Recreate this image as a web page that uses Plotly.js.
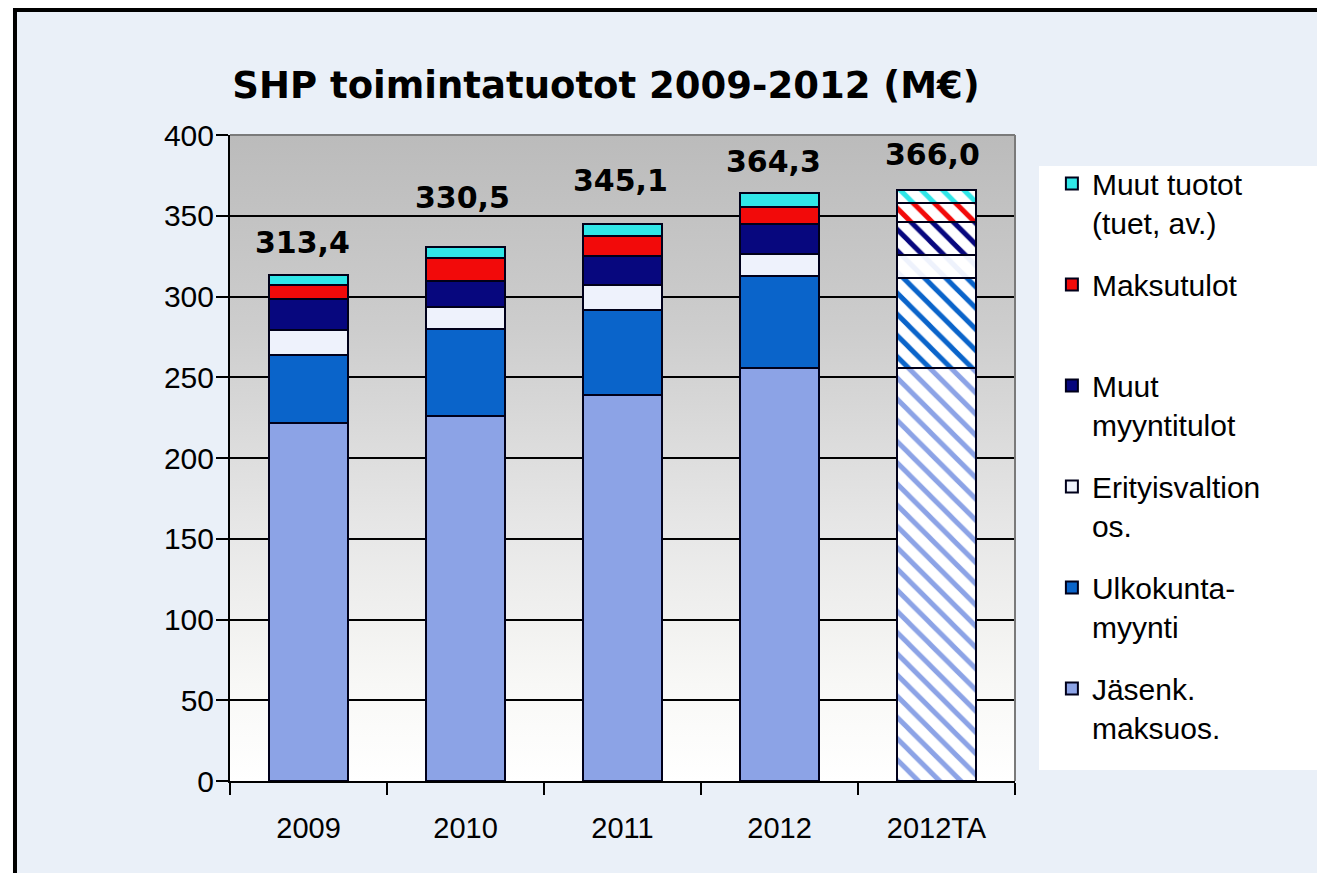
<!DOCTYPE html>
<html>
<head>
<meta charset="utf-8">
<script src="https://cdn.plot.ly/plotly-3.0.1.min.js"></script>
<style>
  html, body { margin: 0; padding: 0; background: #ffffff; }
  #chart { width: 1317px; height: 873px; }
</style>
</head>
<body>
<div id="chart"></div>
<script>
// ---- data (M€) ----
const categories = ['2009', '2010', '2011', '2012', '2012TA'];
const jasenkMaksuos = [221.5, 226.0, 239.0, 255.7, 255.5];
const ulkokuntaMyynti = [42.5, 54.0, 52.6, 57.0, 56.0];
const erityisvaltionos = [15.5, 13.6, 15.4, 13.6, 14.5];
const muutMyyntitulot = [19.0, 16.0, 18.0, 18.7, 20.0];
const maksutulot = [8.9, 14.0, 12.5, 10.3, 12.0];
const muutTuotot = [6.0, 6.9, 7.6, 9.0, 8.0];
const totals = [313.4, 330.5, 345.1, 364.3, 366.0];
const seriesNames = [
  'Jäsenk.<br>maksuos.',
  'Ulkokunta-<br>myynti',
  'Erityisvaltion<br>os.',
  'Muut<br>myyntitulot',
  'Maksutulot<br>&nbsp;',
  'Muut tuotot<br>(tuet, av.)'
];

// ---- styling ----
const seriesColors = ['#8CA3E6', '#0A64CA', '#EEF2FC', '#07077E', '#F20A0A', '#30E6E8'];
const labelXShift = [-6, -3, -2, -6, -4];
const labelYShift = [32, 50, 43, 31, 35];
const patternShapes = categories.map(c => c.endsWith('TA') ? '\\' : '');

const seriesValues = [jasenkMaksuos, ulkokuntaMyynti, erityisvaltionos, muutMyyntitulot, maksutulot, muutTuotot];

const traces = seriesValues.map((vals, i) => ({
  type: 'bar',
  name: seriesNames[i],
  x: categories,
  y: vals,
  legendgroup: 'g' + i,
  legendrank: 1000 - i * 100,
  marker: {
    color: seriesColors[i],
    line: { color: '#00001A', width: 2 },
    pattern: {
      shape: patternShapes,
      fgcolor: seriesColors[i],
      bgcolor: '#FFFFFF',
      size: 15,
      solidity: 0.33,
      fillmode: 'replace'
    }
  },
  hoverinfo: 'x+y+name'
}));

const annotations = categories.map((c, i) => ({
  x: i,
  y: totals[i],
  xref: 'x',
  yref: 'y',
  text: totals[i].toFixed(1).replace('.', ','),
  showarrow: false,
  xanchor: 'center',
  yanchor: 'middle',
  xshift: labelXShift[i],
  yshift: labelYShift[i],
  font: { family: 'DejaVu Sans', size: 30, color: '#000000', weight: 'bold' }
}));

const gradSvg = '<svg xmlns="http://www.w3.org/2000/svg" width="100" height="100" preserveAspectRatio="none">' +
  '<defs><linearGradient id="g" x1="0" y1="0" x2="0" y2="1">' +
  '<stop offset="0" stop-color="#BBBBBB"/>' +
  '<stop offset="0.3" stop-color="#CDCDCD"/>' +
  '<stop offset="0.6" stop-color="#E6E6E6"/>' +
  '<stop offset="0.85" stop-color="#F8F8F6"/>' +
  '<stop offset="1" stop-color="#FFFFFF"/>' +
  '</linearGradient></defs><rect width="100" height="100" fill="url(#g)"/></svg>';

const layout = {
  width: 1317,
  height: 873,
  paper_bgcolor: '#FFFFFF',
  plot_bgcolor: 'rgba(0,0,0,0)',
  margin: { l: 230, r: 302, t: 135, b: 92, pad: 0 },
  barmode: 'stack',
  bargap: 0.5,
  font: { family: 'Liberation Sans, Arial, sans-serif', color: '#000000' },
  title: {
    text: 'SHP toimintatuotot 2009-2012 (M€)',
    font: { family: 'DejaVu Sans, sans-serif', size: 37, color: '#000000', weight: 'bold' },
    xref: 'paper',
    x: 0.479,
    xanchor: 'center',
    yref: 'container',
    y: 0.903,
    yanchor: 'middle'
  },
  xaxis: {
    type: 'category',
    range: [-0.5, 4.5],
    showline: true,
    linecolor: '#000000',
    linewidth: 2,
    ticks: 'outside',
    tickson: 'boundaries',
    ticklen: 12,
    tickwidth: 2,
    tickcolor: '#000000',
    ticklabelstandoff: 20,
    showgrid: false,
    tickfont: { family: 'Liberation Sans, Arial, sans-serif', size: 29, color: '#000000' },
    fixedrange: true
  },
  yaxis: {
    range: [0, 400],
    dtick: 50,
    tick0: 0,
    showline: true,
    linecolor: '#000000',
    linewidth: 2,
    ticks: 'outside',
    ticklen: 12,
    tickwidth: 2,
    tickcolor: '#000000',
    ticklabelstandoff: -4,
    showgrid: true,
    gridcolor: '#000000',
    gridwidth: 2,
    zeroline: false,
    tickfont: { family: 'Liberation Sans, Arial, sans-serif', size: 30, color: '#000000' },
    fixedrange: true
  },
  legend: {
    x: 1.047,
    xanchor: 'left',
    y: 0.965,
    yanchor: 'top',
    traceorder: 'grouped',
    tracegroupgap: 20,
    valign: 'top',
    bgcolor: 'rgba(0,0,0,0)',
    borderwidth: 0,
    font: { family: 'Liberation Sans, Arial, sans-serif', size: 30, color: '#000000' }
  },
  images: [{
    source: 'data:image/svg+xml;charset=utf-8,' + encodeURIComponent(gradSvg),
    xref: 'x domain',
    yref: 'y domain',
    x: 0, y: 1,
    sizex: 1, sizey: 1,
    xanchor: 'left',
    yanchor: 'top',
    sizing: 'stretch',
    layer: 'below'
  }],
  shapes: [
    { type: 'rect', xref: 'paper', yref: 'paper', layer: 'below',
      x0: -0.2739, x1: 1.42, y0: -0.17, y1: 1.1935,
      fillcolor: '#EAF0F8', line: { color: '#000000', width: 4 } },
    { type: 'rect', xref: 'paper', yref: 'paper', layer: 'below',
      x0: 1.0306, x1: 1.42, y0: 0.0170, y1: 0.9520,
      fillcolor: '#FFFFFF', line: { width: 0 } },
    { type: 'line', xref: 'paper', yref: 'paper', layer: 'above',
      x0: 0, x1: 1, y0: 1, y1: 1, line: { color: '#7A7A7A', width: 2 } },
    { type: 'line', xref: 'paper', yref: 'paper', layer: 'above',
      x0: 1, x1: 1, y0: 0, y1: 1, line: { color: '#7A7A7A', width: 2 } }
  ],
  annotations: annotations
};

Plotly.newPlot('chart', traces, layout, { displayModeBar: false, staticPlot: true });
</script>
</body>
</html>
